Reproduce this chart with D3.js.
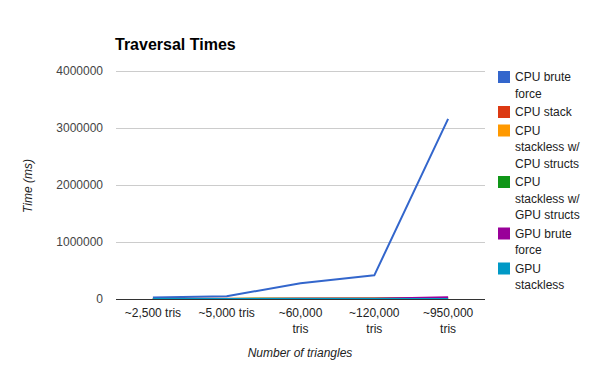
<!DOCTYPE html>
<html>
<head>
<meta charset="utf-8">
<script src="https://cdn.jsdelivr.net/npm/d3@7"></script>
<style>
  body { margin: 0; background: #fff; }
  text { font-family: Arial, "Liberation Sans", sans-serif; }
</style>
</head>
<body>
<svg id="chart" width="600" height="371"></svg>
<script>
// categories and series
const categories = ["~2,500 tris", "~5,000 tris", "~60,000 tris", "~120,000 tris", "~950,000 tris"];
const seriesNames = ["CPU brute force", "CPU stack", "CPU stackless w/ CPU structs",
  "CPU stackless w/ GPU structs", "GPU brute force", "GPU stackless"];
const cpuBrute = [25000, 50000, 275000, 415000, 3160000];
const cpuStack = [1500, 3000, 6000, 9000, 15000];
const cpuStacklessCpu = [1000, 2000, 4000, 6000, 10000];
const cpuStacklessGpu = [1000, 2000, 4000, 6000, 10000];
const gpuBrute = [500, 1000, 3000, 5000, 32000];
const gpuStackless = [200, 400, 800, 1200, 2000];
const yTicks = [0, 1000000, 2000000, 3000000, 4000000];
const colors = ["#3366cc", "#dc3912", "#ff9900", "#109618", "#990099", "#0099c6"];

const series = [cpuBrute, cpuStack, cpuStacklessCpu, cpuStacklessGpu, gpuBrute, gpuStackless]
  .map((values, i) => ({ name: seriesNames[i], color: colors[i], values }));

const svg = d3.select("#chart");
const plot = { left: 116, right: 485, top: 71, bottom: 299 };

const x = d3.scalePoint().domain(categories).range([plot.left, plot.right]).padding(0.5);
const y = d3.scaleLinear().domain([0, 4000000]).range([plot.bottom, plot.top]);

// wrap words into lines no wider than maxW
function wrapText(textSel, str, maxW, lineH) {
  const words = str.split(" ");
  let line = [];
  let tspan = textSel.append("tspan").attr("x", textSel.attr("x")).attr("dy", 0);
  words.forEach((w) => {
    line.push(w);
    tspan.text(line.join(" "));
    if (tspan.node().getComputedTextLength() > maxW && line.length > 1) {
      line.pop();
      tspan.text(line.join(" "));
      line = [w];
      tspan = textSel.append("tspan").attr("x", textSel.attr("x")).attr("dy", lineH).text(w);
    }
  });
  return textSel.selectAll("tspan").size();
}

// title
svg.append("text")
  .attr("x", 115).attr("y", 50)
  .attr("font-size", 16).attr("font-weight", "bold").attr("fill", "#000")
  .text("Traversal Times");

// gridlines
svg.append("g")
  .selectAll("line")
  .data(yTicks.filter((d) => d !== 0))
  .join("line")
  .attr("x1", plot.left).attr("x2", plot.right)
  .attr("y1", (d) => y(d) + 0.5).attr("y2", (d) => y(d) + 0.5)
  .attr("stroke", "#cccccc");

// y tick labels
svg.append("g")
  .selectAll("text")
  .data(yTicks)
  .join("text")
  .attr("x", 103).attr("y", (d) => y(d) + 4)
  .attr("text-anchor", "end").attr("font-size", 12).attr("fill", "#444")
  .text((d) => d);

// lines
const line = d3.line()
  .x((d, i) => x(categories[i]))
  .y((d) => y(d));

svg.append("g")
  .selectAll("path")
  .data(series)
  .join("path")
  .attr("d", (d) => line(d.values))
  .attr("fill", "none")
  .attr("stroke", (d) => d.color)
  .attr("stroke-width", 2)
  .attr("stroke-linejoin", "round");

// baseline
svg.append("line")
  .attr("x1", plot.left).attr("x2", plot.right)
  .attr("y1", y(0) + 0.5).attr("y2", y(0) + 0.5)
  .attr("stroke", "#333");

// x labels
categories.forEach((c) => {
  const t = svg.append("text")
    .attr("x", x(c)).attr("y", 317)
    .attr("text-anchor", "middle").attr("font-size", 12).attr("fill", "#222");
  wrapText(t, c, 60, 16);
});

// axis titles
svg.append("text")
  .attr("x", 300).attr("y", 357)
  .attr("text-anchor", "middle").attr("font-size", 12)
  .attr("font-style", "italic").attr("fill", "#222")
  .text("Number of triangles");

svg.append("text")
  .attr("transform", "translate(32,186) rotate(-90)")
  .attr("text-anchor", "middle").attr("font-size", 12)
  .attr("font-style", "italic").attr("fill", "#222")
  .text("Time (ms)");

// legend
const lineH = 16.5;
let ly = 71;
series.forEach((s) => {
  const g = svg.append("g");
  g.append("rect")
    .attr("x", 498).attr("y", ly).attr("width", 12).attr("height", 12)
    .attr("fill", s.color);
  const t = g.append("text")
    .attr("x", 515).attr("y", ly + 10)
    .attr("font-size", 12).attr("fill", "#222");
  const n = wrapText(t, s.name, 75, lineH);
  ly += n * lineH + 2;
});
</script>
</body>
</html>
